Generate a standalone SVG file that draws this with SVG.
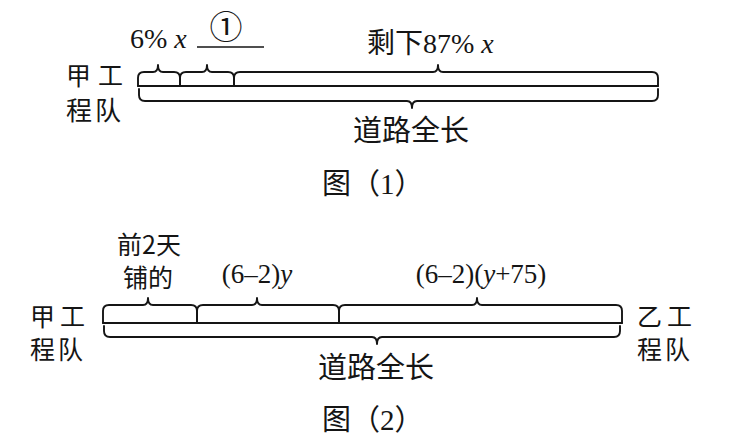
<svg xmlns="http://www.w3.org/2000/svg" width="729" height="446" viewBox="0 0 729 446">
<style>
.br{fill:none;stroke:#151515;stroke-width:1.9;stroke-linejoin:round;stroke-linecap:round}
.ul{stroke:#151515;stroke-width:1.6}
.cn{font-family:"Noto Sans CJK SC",sans-serif;fill:#151515}
.mx{font-family:"Liberation Serif","Noto Sans CJK SC",serif;fill:#151515}
.it{font-style:italic}
</style>
<rect width="729" height="446" fill="#fff"/>
<g id="fig1">
<g id="fig1-connectors">
<path class="br" d="M138,86 L138,78 Q138,72 144,72 L153,72 Q158,72 158,65 Q158,72 163,72 L174,72 Q180,72 180,78 L180,86"/>
<path class="br" d="M180,86 L180,78 Q180,72 186,72 L202,72 Q207,72 207,65 Q207,72 212,72 L228,72 Q234,72 234,78 L234,86"/>
<path class="br" d="M234,86 L234,78 Q234,72 240,72 L433,72 Q438,72 438,65 Q438,72 443,72 L652,72 Q658,72 658,78 L658,86"/>
<path class="br" d="M138,86 L658,86"/>
<path class="br" d="M139,89 L139,95 Q139,101 145,101 L407,101 Q412,101 412,108 Q412,101 417,101 L652,101 Q658,101 658,95 L658,89"/>
<line class="ul" x1="197" y1="47" x2="264" y2="47"/>
</g>
<g id="fig1-team">
<text class="cn" x="66" y="85" font-size="25" letter-spacing="7">甲工</text>
<text class="cn" x="66" y="120" font-size="26" letter-spacing="3">程队</text>
</g>
<g id="fig1-part1"><text class="mx" x="130" y="48" font-size="28">6% <tspan class="it">x</tspan></text></g>
<g id="fig1-part2"><text class="cn" x="226" y="39" font-size="33" text-anchor="middle">①</text></g>
<g id="fig1-rest"><text class="mx" x="367" y="53" font-size="28">剩下87% <tspan class="it">x</tspan></text></g>
<g id="fig1-total"><text class="mx" x="411" y="141" font-size="29" text-anchor="middle">道路全长</text></g>
<g id="fig1-caption"><text class="mx" x="322" y="194" font-size="29">图（1）</text></g>
</g>
<g id="fig2">
<g id="fig2-connectors">
<path class="br" d="M103,323 L103,311 Q103,305 109,305 L143,305 Q148,305 148,298 Q148,305 153,305 L191,305 Q197,305 197,311 L197,323"/>
<path class="br" d="M197,323 L197,311 Q197,305 203,305 L252,305 Q257,305 257,298 Q257,305 262,305 L333,305 Q339,305 339,311 L339,323"/>
<path class="br" d="M339,323 L339,311 Q339,305 345,305 L472,305 Q477,305 477,298 Q477,305 482,305 L616,305 Q622,305 622,311 L622,323"/>
<path class="br" d="M103,323 L622,323"/>
<path class="br" d="M104,326 L104,331 Q104,337 110,337 L372,337 Q377,337 377,344 Q377,337 382,337 L614,337 Q620,337 620,331 L620,326"/>
</g>
<g id="fig2-teamA">
<text class="cn" x="30" y="326" font-size="25" letter-spacing="5">甲工</text>
<text class="cn" x="30" y="359" font-size="25" letter-spacing="3">程队</text>
</g>
<g id="fig2-teamB">
<text class="cn" x="637" y="326" font-size="25" letter-spacing="5">乙工</text>
<text class="cn" x="637" y="359" font-size="25" letter-spacing="3">程队</text>
</g>
<g id="fig2-first">
<text class="cn" x="149" y="254" font-size="25" text-anchor="middle">前2天</text>
<text class="cn" x="148" y="287" font-size="25" text-anchor="middle">铺的</text>
</g>
<g id="fig2-part2"><text class="mx" x="257" y="283" font-size="27" text-anchor="middle">(6–2)<tspan class="it">y</tspan></text></g>
<g id="fig2-part3"><text class="mx" x="481" y="283" font-size="27" text-anchor="middle">(6–2)(<tspan class="it">y</tspan>+75)</text></g>
<g id="fig2-total"><text class="mx" x="376" y="378" font-size="29" text-anchor="middle">道路全长</text></g>
<g id="fig2-caption"><text class="mx" x="322" y="430" font-size="29">图（2）</text></g>
</g>
</svg>
